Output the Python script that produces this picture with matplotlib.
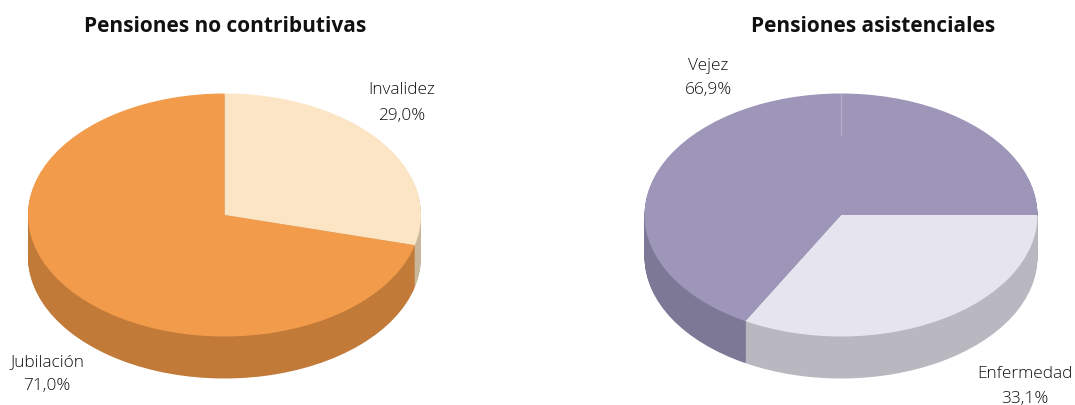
import matplotlib
matplotlib.use("Agg")
import matplotlib.pyplot as plt

W, H = 1075, 406
plt.rcParams['font.family'] = ['Open Sans', 'DejaVu Sans']

left_title = "Pensiones no contributivas"
left_labels = ["Invalidez", "Jubilación"]
left_values = [29.0, 71.0]
left_text = ["29,0%", "71,0%"]
left_top = ["#FCE5C4", "#F29B4B"]
left_side = ["#C9B79C", "#C27A38"]

right_title = "Pensiones asistenciales"
right_labels = ["Enfermedad", "Vejez"]
right_values = [33.1, 66.9]
right_text = ["33,1%", "66,9%"]
right_top = ["#E6E5EF", "#9D96B9"]
right_side = ["#B9B8C0", "#7C7896"]


def pie3d(fig, cx, values, top, side, startangle):
    rx, ry, cy, depth = 196.5, 121.5, 216.0, 42
    ax = fig.add_axes([(cx - rx) / W, 1 - (cy + ry + depth) / H,
                       2 * rx / W, (2 * ry + depth) / H])
    step = 1 / ry
    for d in range(depth, 0, -1):
        ax.pie(values, colors=side, startangle=startangle, counterclock=False,
               center=(0, -d * step), radius=1, frame=True,
               wedgeprops={"linewidth": 0})
    ax.pie(values, colors=top, startangle=startangle, counterclock=False,
           center=(0, 0), radius=1, frame=True,
           wedgeprops={"linewidth": 0})
    ax.set_aspect("auto")
    ax.set_xlim(-1, 1)
    ax.set_ylim(-1 - depth * step, 1)
    ax.axis("off")
    return ax


fig = plt.figure(figsize=(W / 100, H / 100), dpi=100)
pie3d(fig, 224.5, left_values, left_top, left_side, 90)
ax_r = pie3d(fig, 841, right_values, right_top, right_side, 0)
ax_r.plot([0, 0], [1, 0.66], color="#B4AFCB", lw=0.8)


def label(x, y, s, **kw):
    fig.text(x / W, 1 - y / H, s, ha="center", va="center", **kw)


label(225, 26.5, left_title, fontsize=15, fontweight="bold", color="#111111")
label(873, 26.5, right_title, fontsize=15, fontweight="bold", color="#111111")

txt = dict(fontsize=12.4, color="#111111", fontweight="light")
label(401.5, 90.5, left_labels[0], **txt)
label(401.5, 115.5, left_text[0], **txt)
label(47, 362.5, left_labels[1], **txt)
label(47, 386.5, left_text[1], **txt)
label(708, 65.5, right_labels[1], **txt)
label(708, 90.5, right_text[1], **txt)
label(1024.5, 374.5, right_labels[0], **txt)
label(1024.5, 399, right_text[0], **txt)

fig.savefig("out.png", dpi=100)
